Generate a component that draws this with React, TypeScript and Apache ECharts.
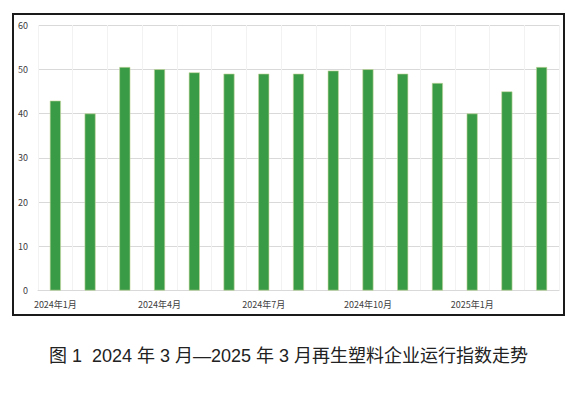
import React, { useEffect, useRef } from "react";
import * as echarts from "echarts";

const categories = [
  "2024年1月", "2024年2月", "2024年3月", "2024年4月", "2024年5月",
  "2024年6月", "2024年7月", "2024年8月", "2024年9月", "2024年10月",
  "2024年11月", "2024年12月", "2025年1月", "2025年2月", "2025年3月",
];
const values = [42.9, 40.0, 50.5, 50.0, 49.3, 49.0, 49.0, 49.0, 49.7, 50.0, 49.0, 46.9, 40.0, 45.0, 50.5];
const yTicks = { min: 0, max: 60, interval: 10 };
const caption = "图 1  2024 年 3 月—2025 年 3 月再生塑料企业运行指数走势";

export default function App() {
  const ref = useRef<HTMLDivElement>(null);
  useEffect(() => {
    if (!ref.current) return;
    const chart = echarts.init(ref.current, null, { renderer: "svg" });
    chart.setOption({
      animation: false,
      backgroundColor: "#ffffff",
      grid: { left: 38, right: 18, top: 25, bottom: 102.5 },
      xAxis: {
        type: "category",
        data: categories,
        boundaryGap: true,
        axisLine: { show: true, lineStyle: { color: "#d9d9d9", width: 1 } },
        axisTick: { show: false, interval: 0 },
        axisLabel: {
          interval: 2,
          fontSize: 9,
          color: "#404040",
          margin: 9,
          fontFamily: "Noto Sans CJK SC",
        },
        splitLine: { show: true, interval: 0, lineStyle: { color: "#f2f2f2", width: 1 } },
      },
      yAxis: {
        type: "value",
        min: yTicks.min,
        max: yTicks.max,
        interval: yTicks.interval,
        axisLine: { show: false },
        axisTick: { show: false },
        axisLabel: { fontSize: 9, color: "#404040", margin: 10, fontFamily: "Noto Sans CJK SC" },
        splitLine: { show: true, lineStyle: { color: "#d9d9d9", width: 1 } },
      },
      series: [
        {
          type: "bar",
          data: values,
          barWidth: 11,
          itemStyle: { color: "#3a9b47", borderColor: "#c8d89c", borderWidth: 0.6 },
        },
      ],
      graphic: [
        {
          type: "rect",
          shape: { x: 13, y: 14, width: 551, height: 301 },
          style: { fill: "none", stroke: "#1a1a1a", lineWidth: 2 },
          silent: true,
          z: 10,
        },
        {
          type: "text",
          x: 288.5,
          y: 356,
          style: {
            text: caption,
            fontSize: 18,
            fontFamily: "'Liberation Sans', 'Noto Sans CJK SC'",
            fill: "#222222",
            align: "center",
            verticalAlign: "middle",
          },
        },
      ],
    });
    return () => chart.dispose();
  }, []);
  return (
    <div
      ref={ref}
      style={{ position: "absolute", left: 0, top: 0, width: 577, height: 393 }}
    />
  );
}
